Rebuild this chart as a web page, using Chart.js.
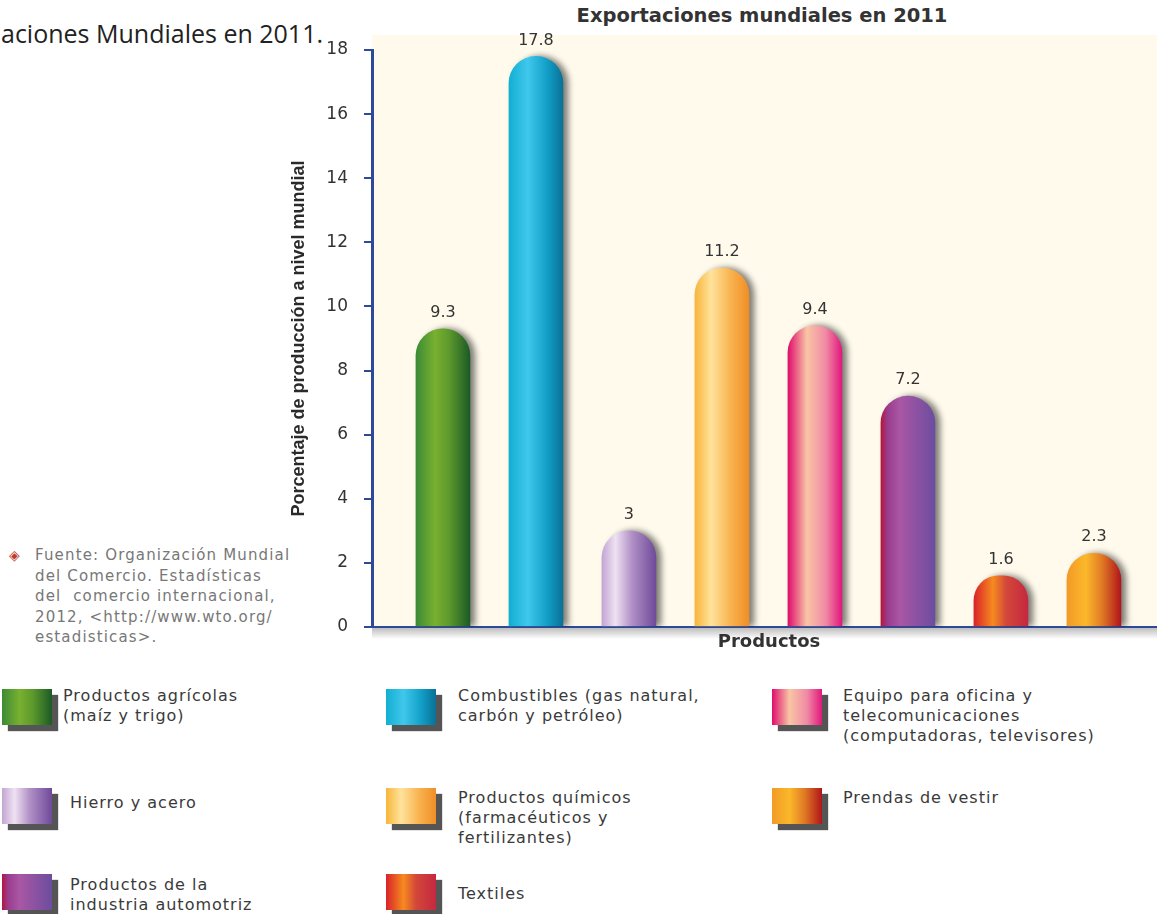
<!DOCTYPE html>
<html>
<head>
<meta charset="utf-8">
<script src="https://cdn.jsdelivr.net/npm/chart.js@4.4.1/dist/chart.umd.min.js"></script>
<style>
  body { margin: 0; width: 1157px; height: 914px; overflow: hidden; background: #fff; position: relative; font-family: "Open Sans", sans-serif; }
  #encabezado { position: absolute; right: calc(1157px - 323px); top: 16px; font-size: 25px; color: #222; white-space: nowrap; }
  #titulo { position: absolute; left: 462px; width: 600px; top: 4px; text-align: center; font-family: "DejaVu Sans", sans-serif; font-weight: bold; font-size: 19.5px; color: #333; }
  #fuente { position: absolute; left: 35px; top: 545px; font-family: "DejaVu Sans", sans-serif; font-size: 15px; letter-spacing: 1.15px; line-height: 20.5px; color: #777; }
  #fuente .rombo { position: absolute; left: -26px; top: 0; color: #c0392b; font-size: 14px; }
  #lienzo { position: absolute; left: 270px; top: 0; width: 896px; height: 670px; }
  .sw { position: absolute; width: 50px; height: 36px; box-shadow: 6px 6px 1px #555; }
  .tx { position: absolute; font-family: "DejaVu Sans", sans-serif; font-size: 16px; letter-spacing: 1px; line-height: 20px; color: #3a3a3a; white-space: nowrap; }
</style>
</head>
<body>
<div id="encabezado">aciones Mundiales en 2011.</div>
<div id="titulo">Exportaciones mundiales en 2011</div>
<div id="fuente"><span class="rombo">◈</span>Fuente: Organización Mundial<br>del Comercio. Estadísticas<br>del&nbsp; comercio internacional,<br>2012, &lt;http://www.wto.org/<br>estadisticas&gt;.</div>
<div id="lienzo"><canvas id="grafica"></canvas></div>
<div id="leyenda"></div>
<script>
// datos
const categorias = [
  ["Productos agrícolas", "(maíz y trigo)"],
  ["Combustibles (gas natural,", "carbón y petróleo)"],
  ["Hierro y acero"],
  ["Productos químicos", "(farmacéuticos y", "fertilizantes)"],
  ["Equipo para oficina y", "telecomunicaciones", "(computadoras, televisores)"],
  ["Productos de la", "industria automotriz"],
  ["Textiles"],
  ["Prendas de vestir"]
];
const porcentajes = [9.3, 17.8, 3, 11.2, 9.4, 7.2, 1.6, 2.3];
const ticksY = [0, 2, 4, 6, 8, 10, 12, 14, 16, 18];

// estilos (degradados de cada barra)
const degradados = [
  [[0, "#3b8b35"], [0.35, "#78b030"], [0.6, "#5f9b2c"], [1, "#1c5a26"]],
  [[0, "#11afd2"], [0.35, "#40c7ec"], [0.7, "#12a0c8"], [1, "#0a7096"]],
  [[0, "#c2a6d3"], [0.25, "#efe1f2"], [0.55, "#b191c6"], [1, "#6f4a9a"]],
  [[0, "#f8b53a"], [0.3, "#ffe39c"], [0.65, "#f9b451"], [1, "#ef8e26"]],
  [[0, "#df0d6d"], [0.35, "#f9c5a5"], [0.7, "#f08aa5"], [1, "#e2177c"]],
  [[0, "#b3163b"], [0.12, "#9a3c8e"], [0.35, "#a957a4"], [1, "#6c4d9f"]],
  [[0, "#d9222a"], [0.35, "#f68a1f"], [0.6, "#d3473a"], [1, "#c5283f"]],
  [[0, "#f29a27"], [0.35, "#fbb82a"], [0.65, "#e07a25"], [1, "#b0151a"]]
];
// posicion de la leyenda: [x cuadro, y cuadro, x texto, y texto]
const posLeyenda = [
  [2, 689, 63, 686], [386, 689, 458, 686], [2, 788, 70, 793], [386, 788, 458, 788],
  [772, 689, 843, 686], [2, 874, 70, 875], [386, 874, 458, 884], [772, 788, 843, 788]
];

const anchoBarra = 54;
const azul = "#2d4a9a";

var leyenda = document.getElementById("leyenda");
categorias.forEach(function (lineas, i) {
  var p = posLeyenda[i];
  var sw = document.createElement("div");
  sw.className = "sw";
  sw.style.left = p[0] + "px";
  sw.style.top = p[1] + "px";
  sw.style.background = "linear-gradient(to right," + degradados[i].map(function (s) { return s[1] + " " + (s[0] * 100) + "%"; }).join(",") + ")";
  leyenda.appendChild(sw);
  var tx = document.createElement("div");
  tx.className = "tx";
  tx.style.left = p[2] + "px";
  tx.style.top = p[3] + "px";
  tx.innerHTML = lineas.join("<br>");
  leyenda.appendChild(tx);
});

const fondoYSombra = {
  id: "fondoYSombra",
  beforeDraw(chart) {
    const { ctx, chartArea: a } = chart;
    ctx.save();
    ctx.fillStyle = "#fffaec";
    ctx.fillRect(a.left, a.top - 15, a.right - a.left, a.bottom - a.top + 15);
    var g = ctx.createLinearGradient(0, a.bottom, 0, a.bottom + 12);
    g.addColorStop(0, "rgba(0,0,0,0.28)");
    g.addColorStop(1, "rgba(0,0,0,0)");
    ctx.fillStyle = g;
    ctx.fillRect(a.left, a.bottom, a.right - a.left, 12);
    ctx.restore();
  },
  beforeDatasetsDraw(chart) {
    const ctx = chart.ctx;
    ctx.save();
    ctx.shadowColor = "rgba(0,0,0,0.5)";
    ctx.shadowOffsetX = 5;
    ctx.shadowOffsetY = 0;
    ctx.shadowBlur = 6;
  },
  afterDatasetsDraw(chart) {
    const ctx = chart.ctx;
    ctx.restore();
    ctx.save();
    ctx.fillStyle = "#333";
    ctx.font = "16px 'DejaVu Sans'";
    ctx.textAlign = "center";
    ctx.textBaseline = "middle";
    chart.getDatasetMeta(0).data.forEach(function (el, i) {
      ctx.fillText(String(porcentajes[i]), el.x, el.y - 16);
    });
    ctx.restore();
  }
};

var grafica = new Chart(document.getElementById("grafica").getContext("2d"), {
  type: "bar",
  data: {
    labels: categorias,
    datasets: [{
      data: porcentajes.map(function (v, i) { return { x: i, y: v }; }),
      barThickness: anchoBarra,
      borderRadius: { topLeft: 27, topRight: 27, bottomLeft: 0, bottomRight: 0 },
      borderSkipped: "bottom",
      backgroundColor: function (c) {
        const chart = c.chart;
        if (!chart.chartArea || c.dataIndex === undefined) return "#999";
        const x = chart.scales.x.getPixelForValue(c.dataIndex);
        const g = chart.ctx.createLinearGradient(x - anchoBarra / 2, 0, x + anchoBarra / 2, 0);
        degradados[c.dataIndex].forEach(function (s) { g.addColorStop(s[0], s[1]); });
        return g;
      }
    }]
  },
  options: {
    responsive: true,
    maintainAspectRatio: false,
    animation: false,
    layout: { padding: { top: 50, left: 0, right: 0, bottom: 0 } },
    scales: {
      x: {
        type: "linear",
        offset: false,
        min: -0.763,
        max: 7.775,
        grid: { display: false, drawTicks: false },
        ticks: { display: false },
        border: { color: azul, width: 2 },
        title: { display: true, text: "Productos", color: "#333", font: { family: "'DejaVu Sans'", size: 18, weight: "bold" }, padding: { top: 0, bottom: 17 } },
        afterFit: function (s) { s.height = 43; }
      },
      y: {
        min: 0,
        max: 18,
        afterBuildTicks: function (s) { s.ticks = ticksY.map(function (v) { return { value: v }; }); },
        grid: { drawOnChartArea: false, drawTicks: true, tickLength: 8, color: azul, lineWidth: 2 },
        border: { color: azul, width: 3 },
        ticks: { color: "#333", padding: 16, font: { family: "'DejaVu Sans'", size: 17 } },
        title: { display: true, text: "Porcentaje de producción a nivel mundial", color: "#2a2a2a", font: { family: "'Liberation Sans'", size: 18, weight: "bold" }, padding: { top: 18, bottom: 0 } },
        afterFit: function (s) { s.width = 102; }
      }
    },
    plugins: {
      legend: { display: false },
      tooltip: { enabled: false }
    }
  },
  plugins: [fondoYSombra]
});
</script>
</body>
</html>
